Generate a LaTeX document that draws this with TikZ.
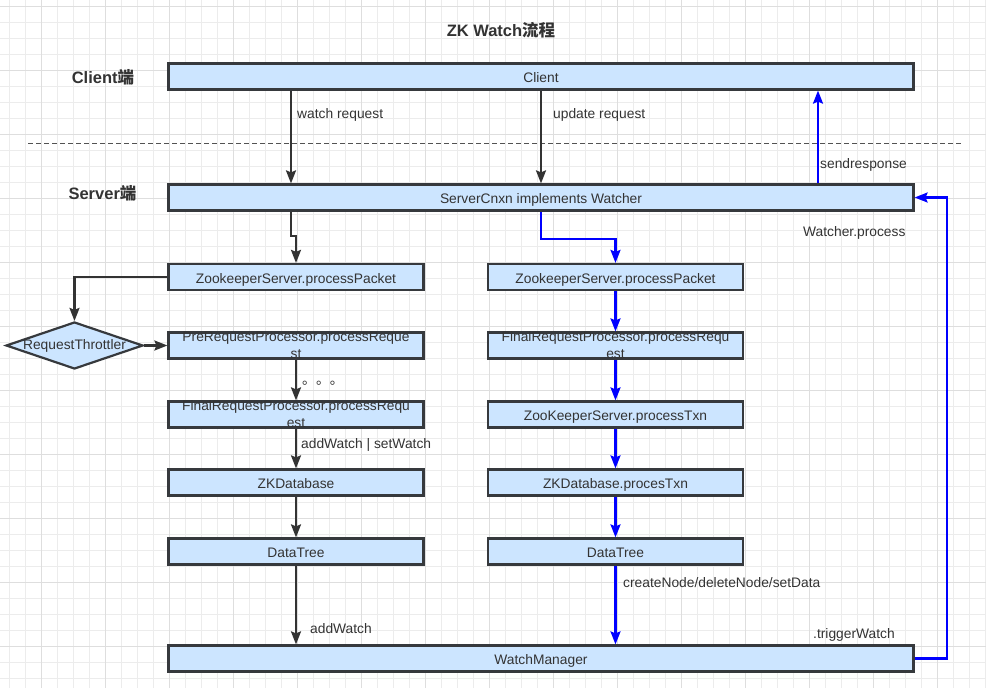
\documentclass[tikz,border=0pt]{standalone}
\usepackage{fontspec}
\setmainfont{Liberation Sans}
\newfontfamily\cjk{Noto Sans CJK SC}
\usetikzlibrary{arrows.meta,shapes.geometric,calc}
\definecolor{gminor}{HTML}{ECECEC}
\definecolor{gmajor}{HTML}{DEDEDE}
\definecolor{boxfill}{HTML}{CCE5FF}
\definecolor{boxline}{HTML}{36393D}
\definecolor{txt}{HTML}{333333}
\definecolor{flowblue}{HTML}{0000FF}
\tikzset{
  box/.style={draw=boxline, line width=2.2pt, fill=boxfill, minimum height=26pt, minimum width=255pt, inner sep=0pt, text=txt, font=\fontsize{13.8}{17}\selectfont, align=center, text height=12pt, text depth=0pt},
  widebox/.style={box, minimum width=745pt},
  inlbl/.style={text=txt, font=\fontsize{13.8}{17}\selectfont, align=center, inner sep=0pt},
  elbl/.style={text=txt, font=\fontsize{13.8}{17}\selectfont, inner sep=0pt, anchor=west, yshift=-1.5pt},
  side/.style={text=txt, font=\fontsize{16.5}{20}\selectfont\bfseries, inner sep=0pt},
  arr/.style={draw=txt, line width=2.2pt, -{Stealth[length=13pt,width=10pt,inset=2pt]}},
  barr/.style={draw=flowblue, line width=2.2pt, -{Stealth[length=13pt,width=10pt,inset=2pt]}},
}
\begin{document}
\begin{tikzpicture}[x=1pt,y=-1pt]
\useasboundingbox (0,0) rectangle (986,688);
\fill[white] (0,0) rectangle (986,688);
% grid
\foreach \x in {9,25,...,985} \draw[gminor, line width=1pt] (\x,0) -- (\x,688);
\foreach \y in {6,22,...,678} \draw[gminor, line width=1pt] (0,\y) -- (986,\y);
\foreach \x in {41,105,...,937} \draw[gmajor, line width=1pt] (\x,0) -- (\x,688);
\foreach \y in {6,70,...,646} \draw[gmajor, line width=1pt] (0,\y) -- (986,\y);

% titles
\node[side] (title) at (501,30) {ZK Watch{\cjk\bfseries 流程}};
\node[side] (clab) at (103,77) {Client{\cjk\bfseries 端}};
\node[side] (slab) at (102.5,193) {Server{\cjk\bfseries 端}};

% separator
\draw[txt!85, line width=1pt, dash pattern=on 5pt off 3pt] (28,143) -- (962,143);

% boxes
\node[widebox] (client) at (541,76.5) {Client};
\node[widebox] (server) at (541,197.5) {ServerCnxn implements Watcher};
\node[box] (lpp) at (296,277) {ZookeeperServer.processPacket};
\node[box] (rpp) at (615.5,277) {ZookeeperServer.processPacket};
\node[box, label={[inlbl]center:PreRequestProcessor.processReque\\st}] (pre) at (296,345.5) {};
\node[box, label={[inlbl]center:FinalRequestProcessor.processRequ\\est}] (fin) at (296,414.5) {};
\node[box, label={[inlbl]center:FinalRequestProcessor.processRequ\\est}] (rfin) at (615.5,345.5) {};
\node[box] (txn) at (615.5,414.5) {ZooKeeperServer.processTxn};
\node[box] (zkdb) at (296,482.5) {ZKDatabase};
\node[box] (rzkdb) at (615.5,482.5) {ZKDatabase.procesTxn};
\node[box] (ldt) at (296,551.5) {DataTree};
\node[box] (rdt) at (615.5,551.5) {DataTree};
\node[widebox] (wm) at (541,658.5) {WatchManager};
\node[diamond, draw=boxline, line width=2.2pt, fill=boxfill, minimum width=137pt, minimum height=47pt, inner sep=0pt,
      label={[inlbl]center:RequestThrottler}] (thr) at (74.5,345.5) {};

% helper coordinates
\coordinate (wx) at (291,0);
\coordinate (sx) at (818,0);

% black connectors
\draw[arr] (client.south -| wx) -- (server.north -| wx);
\node[elbl] (wrl) at (297,113) {watch request};
\draw[arr] (client.south) -- (server.north);
\node[elbl] (url) at (553,113) {update request};
\draw[arr] (server.south -| wx) -- ++(0,24) -| (lpp.north);
\draw[arr] (lpp.west) -| (thr.north);
\draw[arr] (thr.east) -- (pre.west);
\draw[arr] (pre.south) -- (fin.north);
\node[elbl, font=\fontsize{13.8}{17}\selectfont\cjk, anchor=base west, yshift=0pt] (dots) at (302,383) {。。。};
\draw[arr] (fin.south) -- (zkdb.north);
\node[elbl] (awsw) at (301,443) {addWatch | setWatch};
\draw[arr] (zkdb.south) -- (ldt.north);
\draw[arr] (ldt.south) -- (ldt.south |- wm.north);
\node[elbl] (awl) at (310,627) {addWatch};

% blue connectors
\draw[barr] (server.north -| sx) -- (client.south -| sx);
\node[elbl] (srl) at (820,163) {sendresponse};
\draw[barr] (server.south) -- ++(0,27) -| (rpp.north);
\draw[barr] (rpp.south) -- (rfin.north);
\draw[barr] (rfin.south) -- (txn.north);
\draw[barr] (txn.south) -- (rzkdb.north);
\draw[barr] (rzkdb.south) -- (rdt.north);
\draw[barr] (rdt.south) -- (rdt.south |- wm.north);
\node[elbl] (cdl) at (623,581.5) {createNode/deleteNode/setData};
\draw[barr] (wm.east) -- ++(32,0) |- (server.east);
\node[elbl] (twl) at (813,633) {.triggerWatch};
\node[elbl] (wpl) at (803,231) {Watcher.process};
\end{tikzpicture}
\end{document}
